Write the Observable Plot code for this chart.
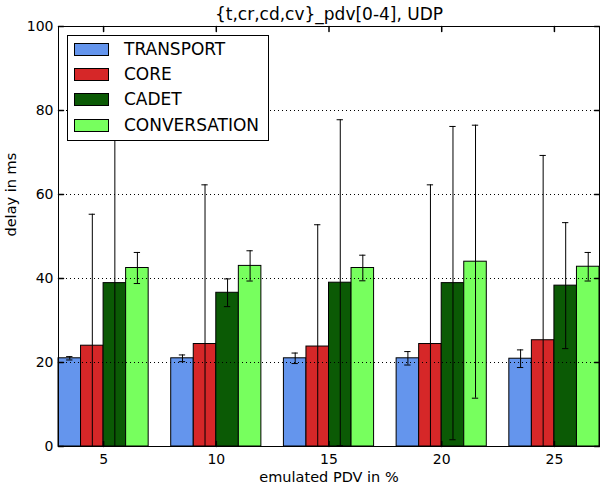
<!DOCTYPE html>
<html>
<head>
<meta charset="utf-8">
<script src="https://cdn.jsdelivr.net/npm/d3@7"></script>
<script src="https://cdn.jsdelivr.net/npm/@observablehq/plot@0.6"></script>
<style>
  html, body { margin: 0; padding: 0; background: #fff; }
  #wrap { position: relative; width: 600px; height: 488px; font-family: "DejaVu Sans", sans-serif; }
  #legend { position: absolute; left: 67px; top: 35px; width: 202px; height: 106px; box-sizing: border-box;
            border: 1px solid #000; background: #fff; }
  .sw { position: absolute; left: 6px; width: 35px; height: 13px; box-sizing: border-box; border: 1px solid #000; }
  .lt { position: absolute; left: 56px; font-size: 17px; line-height: 13px; height: 13px; white-space: nowrap; color: #000; }
</style>
</head>
<body>
<div id="wrap"><div id="legend"></div></div>
<script>
const title = "{t,cr,cd,cv}_pdv[0-4], UDP";
const xLabel = "emulated PDV in %";
const yLabel = "delay in ms";

const groups = [5, 10, 15, 20, 25];
const yTicks = [0, 20, 40, 60, 80, 100];
const gridValues = [20, 40, 60, 80];

const seriesNames = ["TRANSPORT", "CORE", "CADET", "CONVERSATION"];
const seriesColors = ["#6495ED", "#D62728", "#0B5A05", "#77FF5E"];
const seriesOffsets = [-2, -1, 0, 1];

const transportMean = [21.0, 21.0, 21.0, 21.0, 20.9];
const transportErr  = [0.4, 0.8, 1.25, 1.6, 2.1];
const coreMean = [24.0, 24.4, 23.8, 24.4, 25.3];
const coreErr  = [31.3, 37.9, 29.0, 37.9, 44.0];
const cadetMean = [38.9, 36.6, 39.0, 38.9, 38.3];
const cadetErr  = [40.0, 3.3, 38.8, 37.3, 15.0];
const conversationMean = [42.5, 43.0, 42.5, 44.0, 42.8];
const conversationErr  = [3.7, 3.6, 3.05, 32.5, 3.4];

const means = [transportMean, coreMean, cadetMean, conversationMean];
const errs = [transportErr, coreErr, cadetErr, conversationErr];

const rows = [];
seriesNames.forEach((s, i) => {
  groups.forEach((g, j) => {
    const x1 = g + seriesOffsets[i];
    rows.push({series: s, g, x1, x2: x1 + 1, xc: x1 + 0.5, v: means[i][j], e: errs[i][j]});
  });
});
const capHalf = 0.14;

const tickShape = {draw(ctx, l) { ctx.moveTo(0, 0); ctx.lineTo(0, -l); }};

const plot = Plot.plot({
  width: 600,
  height: 488,
  marginLeft: 58,
  marginRight: 1,
  marginTop: 26,
  marginBottom: 42,
  style: {fontFamily: "DejaVu Sans", fontSize: "14px", color: "black", background: "white", overflow: "visible"},
  x: {domain: [3, 27]},
  y: {domain: [0, 100]},
  color: {domain: seriesNames, range: seriesColors},
  marks: [
    Plot.rect(rows, {x1: "x1", x2: "x2", y1: 0, y2: "v", fill: "series", stroke: "black", strokeWidth: 1}),
    Plot.ruleY(gridValues, {stroke: "black", strokeWidth: 1, strokeDasharray: "1,3"}),
    Plot.ruleX(rows, {x: "xc", y1: d => Math.max(0, d.v - d.e), y2: d => d.v + d.e, stroke: "black", strokeWidth: 1}),
    Plot.ruleY(rows, {x1: d => d.xc - capHalf, x2: d => d.xc + capHalf, y: d => d.v + d.e, stroke: "black", strokeWidth: 1}),
    Plot.ruleY(rows.filter(d => d.v - d.e > 0), {x1: d => d.xc - capHalf, x2: d => d.xc + capHalf, y: d => d.v - d.e, stroke: "black", strokeWidth: 1}),
    // inward ticks on all four sides
    Plot.vector(yTicks, {y: d => d, frameAnchor: "left", length: 5, rotate: 90, anchor: "start", shape: tickShape, stroke: "black"}),
    Plot.vector(yTicks, {y: d => d, frameAnchor: "right", length: 5, rotate: -90, anchor: "start", shape: tickShape, stroke: "black"}),
    Plot.vector(groups, {x: d => d, frameAnchor: "bottom", length: 5, rotate: 0, anchor: "start", shape: tickShape, stroke: "black"}),
    Plot.vector(groups, {x: d => d, frameAnchor: "top", length: 5, rotate: 180, anchor: "start", shape: tickShape, stroke: "black"}),
    Plot.axisX({ticks: groups, tickSize: 0, tickPadding: 8, label: null, fontSize: 14}),
    Plot.axisY({ticks: yTicks, tickSize: 0, tickPadding: 5, label: null, fontSize: 14}),
    Plot.frame({stroke: "black", strokeWidth: 1}),
    Plot.text([xLabel], {frameAnchor: "bottom", dy: 35, lineAnchor: "bottom", fontSize: 14.5, fill: "black"}),
    Plot.text([yLabel], {frameAnchor: "left", dx: -43, rotate: -90, lineAnchor: "bottom", fontSize: 14.5, fill: "black"}),
    Plot.text([title], {frameAnchor: "top", dy: -6.5, lineAnchor: "bottom", fontSize: 17, fill: "black"})
  ]
});
document.getElementById("wrap").prepend(plot);

const legend = document.getElementById("legend");
seriesNames.forEach((s, i) => {
  const top = 6.5 + i * 25.4;
  const sw = document.createElement("div");
  sw.className = "sw";
  sw.style.top = top + "px";
  sw.style.background = seriesColors[i];
  legend.appendChild(sw);
  const t = document.createElement("div");
  t.className = "lt";
  t.style.top = top + "px";
  t.textContent = s;
  legend.appendChild(t);
});
</script>
</body>
</html>
